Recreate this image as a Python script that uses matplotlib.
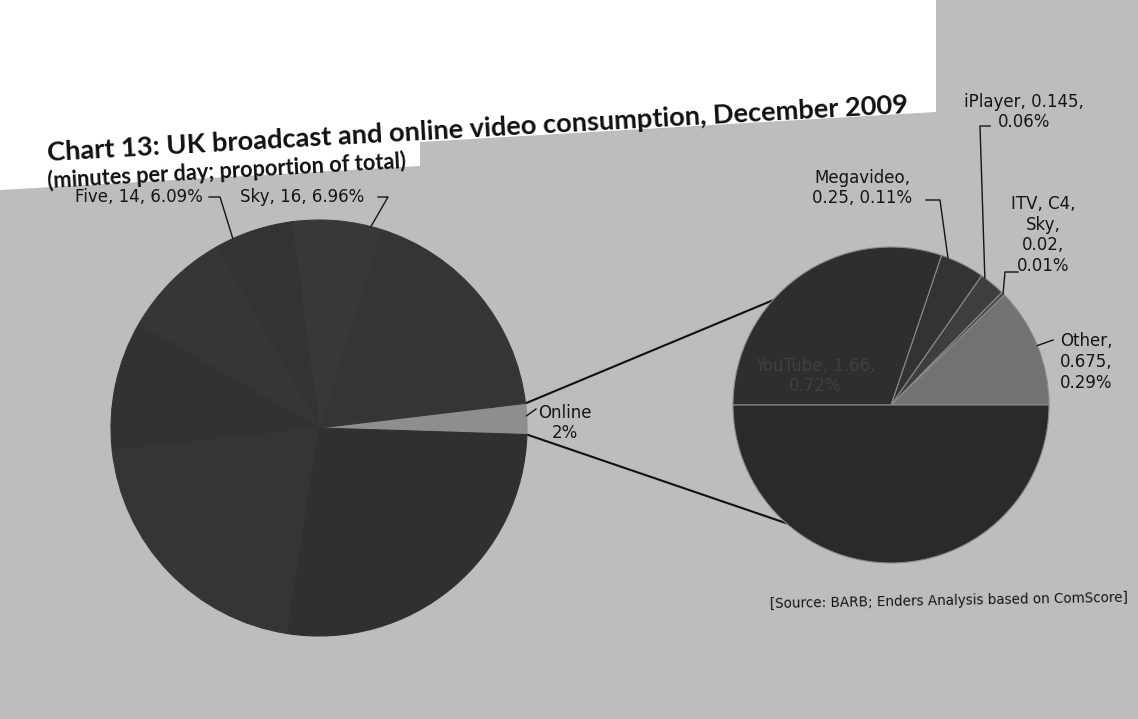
import matplotlib
matplotlib.use('Agg')
import matplotlib.pyplot as plt
from matplotlib.patches import Polygon
import numpy as np

W, H = 1138, 719

# minutes per day, Dec 2009
sec_names = ['Other', 'ITV, C4, Sky', 'iPlayer', 'Megavideo', 'YouTube', 'Other sites']
sec_values = [0.675, 0.02, 0.145, 0.25, 1.66, 2.75]
main_names = ['Online', 'Other channels', 'Sky', 'Five', 'Channel 4', 'BBC Two', 'ITV1', 'BBC One']
main_values = [sum(sec_values), 42, 16, 14, 19.6, 23, 48, 61.9]
total = sum(main_values)

title1 = 'Chart 13: UK broadcast and online video consumption, December 2009'
title2 = '(minutes per day; proportion of total)'
source = '[Source: BARB; Enders Analysis based on ComScore]'

fig = plt.figure(figsize=(W / 100, H / 100), dpi=100)
fig.patch.set_facecolor('#bdbdbd')
ax = fig.add_axes([0, 0, 1, 1])
ax.set_facecolor('#bdbdbd')

def Y(y):
    return H - y

def edge(cx, cy, r, ang):
    a = np.radians(ang)
    return cx + r * np.cos(a), cy - r * np.sin(a)

# white paper behind the title
white = [(0, 0), (936, 0), (936, 112), (420, 142), (420, 166), (0, 190)]
ax.add_patch(Polygon([(x, Y(y)) for x, y in white], closed=True,
                     facecolor='white', edgecolor='none', zorder=0))

# main pie
c1 = (319, 428)
r1 = 208
main_colors = ['#8e8e8e', '#353535', '#383838', '#333333', '#363636', '#323232', '#353535', '#303030']
w1, _ = ax.pie(main_values, colors=main_colors, startangle=-1.8, counterclock=True,
               center=(c1[0], Y(c1[1])), radius=r1, frame=True)
for w in w1:
    w.set_edgecolor(w.get_facecolor())
    w.set_linewidth(0.8)

# secondary pie
c2 = (891, 405)
r2 = 158
sec_colors = ['#727272', '#4a4a4a', '#3e3e3e', '#333333', '#2e2e2e', '#2a2a2a']
w2, _ = ax.pie(sec_values, colors=sec_colors, startangle=0, counterclock=True,
               center=(c2[0], Y(c2[1])), radius=r2, frame=True,
               wedgeprops=dict(edgecolor='#8a8a8a', linewidth=0.8))

# connector lines
on = w1[0]
p_top = edge(*c1, r1, on.theta2)
p_bot = edge(*c1, r1, on.theta1)
ax.plot([p_top[0], c2[0]], [Y(p_top[1]), Y(c2[1] - r2 + 4)], color='#111111', lw=1.5, zorder=0.5)
ax.plot([p_bot[0], c2[0]], [Y(p_bot[1]), Y(c2[1] + r2 - 4)], color='#111111', lw=1.5, zorder=0.5)
for w in list(w1) + list(w2):
    w.set_zorder(1)

lab_kw = dict(family='DejaVu Sans', fontsize=12, color='#151515', zorder=5, linespacing=1.2)

def leader(pts, wedge, c, r, frac):
    ang = wedge.theta1 + frac * (wedge.theta2 - wedge.theta1)
    ex, ey = edge(*c, r, ang)
    xs = [p[0] for p in pts] + [ex]
    ys = [Y(p[1]) for p in pts] + [Y(ey)]
    ax.plot(xs, ys, color='#151515', lw=1.0, zorder=4)

def pct(v):
    return 100 * v / total

# main labels
i = main_names.index('Five')
ax.text(75, Y(197), f'Five, {main_values[i]:g}, {pct(main_values[i]):.2f}%', ha='left', va='center', **lab_kw)
leader([(209, 197), (220, 197)], w1[i], c1, r1, 0.77)
i = main_names.index('Sky')
ax.text(240, Y(197), f'Sky, {main_values[i]:g}, {pct(main_values[i]):.2f}%', ha='left', va='center', **lab_kw)
leader([(378, 197), (388, 197)], w1[i], c1, r1, 0.12)
ax.text(565, Y(423), f'Online\n{pct(main_values[0]):.0f}%', ha='center', va='center', **lab_kw)
leader([(536, 409)], w1[0], c1, r1, 0.6)

# secondary labels
v = dict(zip(sec_names, sec_values))
ax.text(862, Y(188), f'Megavideo,\n{v["Megavideo"]:g}, {pct(v["Megavideo"]):.2f}%', ha='center', va='center', **lab_kw)
leader([(926, 200), (940, 200)], w2[3], c2, r2, 0.85)
ax.text(1024, Y(112), f'iPlayer, {v["iPlayer"]:g},\n{pct(v["iPlayer"]):.2f}%', ha='center', va='center', **lab_kw)
leader([(990, 126), (980, 126)], w2[2], c2, r2, 0.85)
ax.text(1043, Y(235), f'ITV, C4,\nSky,\n{v["ITV, C4, Sky"]:g},\n{pct(v["ITV, C4, Sky"]):.2f}%', ha='center', va='center', **lab_kw)
leader([(1018, 272), (1005, 272)], w2[1], c2, r2, 0.5)
ax.text(1086, Y(362), f'Other,\n{v["Other"]:g},\n{pct(v["Other"]):.2f}%', ha='center', va='center', **lab_kw)
leader([(1053, 340)], w2[0], c2, r2, 0.5)
# label inside the dark slice, barely readable in the scan
ax.text(815, Y(376), f'YouTube, {v["YouTube"]:g},\n{pct(v["YouTube"]):.2f}%', ha='center', va='center',
        family='DejaVu Sans', fontsize=12, color='#404040', zorder=5, linespacing=1.2)

# title and source, fitted to the scanned widths
rend = fig.canvas.get_renderer()

def fitted(x, y, txt, width, rot, **kw):
    t = ax.text(x, Y(y), txt, ha='left', va='center', rotation_mode='anchor', zorder=6, **kw)
    w = t.get_window_extent(rend).width
    t.set_fontsize(t.get_fontsize() * width / w)
    t.set_rotation(rot)
    return t

fitted(47, 153, title1, 865, 3.2, family='Lato', fontweight='bold', fontsize=17, color='#111111')
fitted(47, 181, title2, 360, 3.2, family='Lato', fontweight='bold', fontsize=17, color='#111111')
fitted(770, 604, source, 357, 1.0, family='DejaVu Sans', fontsize=10, color='#151515')

ax.set_xlim(0, W)
ax.set_ylim(0, H)
ax.set_aspect('equal')
ax.axis('off')

fig.savefig('out.png', dpi=100, facecolor=fig.get_facecolor())
